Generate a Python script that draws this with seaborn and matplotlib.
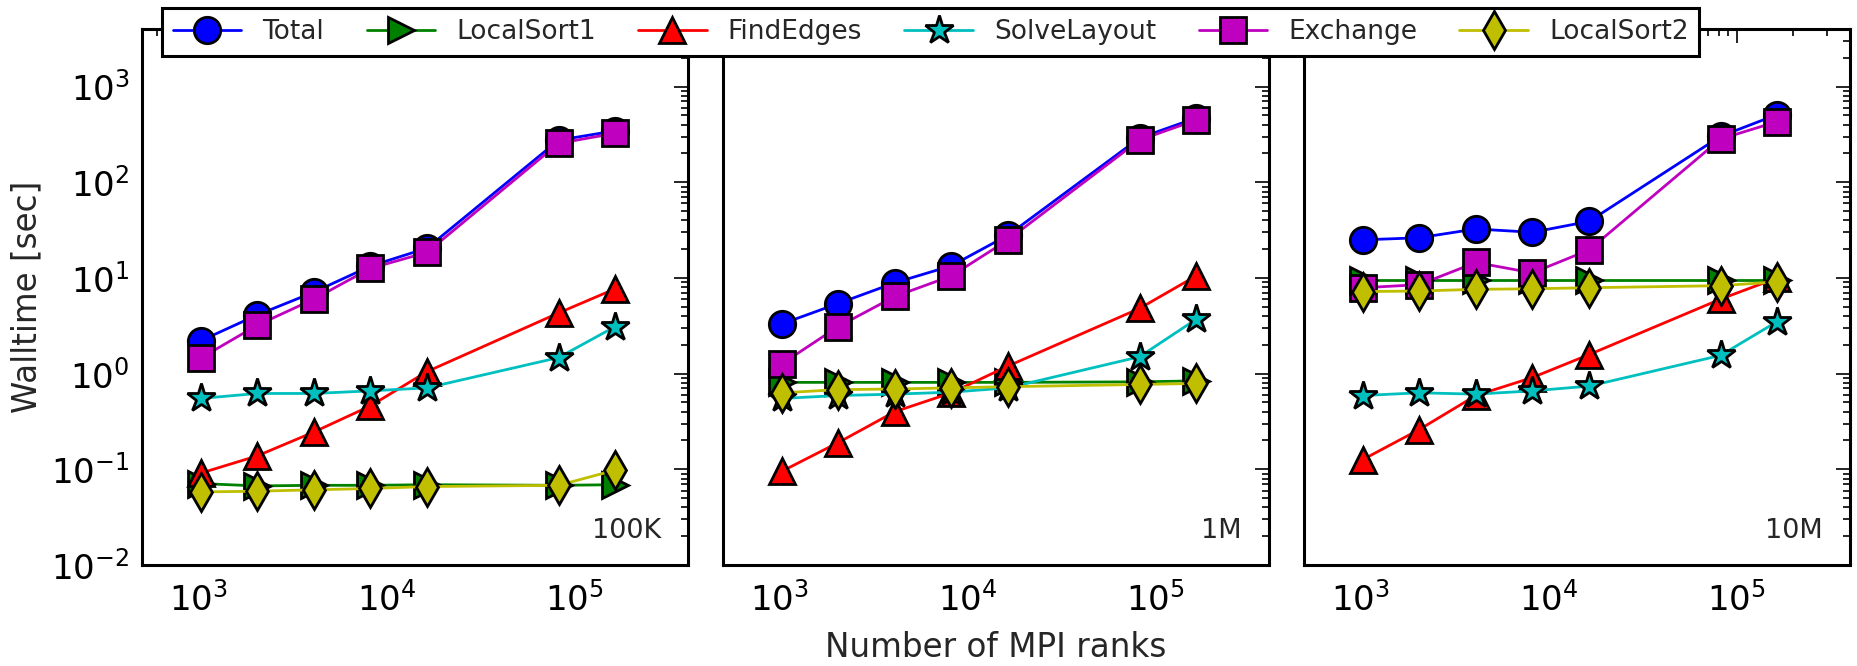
import matplotlib
matplotlib.use("Agg")
import matplotlib.pyplot as plt
import pandas as pd
import seaborn as sns

# MPI ranks on the x axis (same for all panels)
ranks = [1024, 2048, 4096, 8192, 16384, 81920, 163840]
panels = ["100K", "1M", "10M"]
series = ["Total", "LocalSort1", "FindEdges", "SolveLayout", "Exchange", "LocalSort2"]

# walltime [sec]
total_100k = [2.2, 4.1, 7.1, 13.3, 20.5, 275, 345]
localsort1_100k = [0.071, 0.067, 0.068, 0.068, 0.069, 0.068, 0.069]
findedges_100k = [0.091, 0.138, 0.245, 0.46, 1.05, 4.3, 7.7]
solvelayout_100k = [0.55, 0.62, 0.62, 0.66, 0.71, 1.47, 3.1]
exchange_100k = [1.45, 3.2, 6.0, 12.6, 18.5, 255, 325]
localsort2_100k = [0.058, 0.059, 0.061, 0.063, 0.066, 0.068, 0.098]

total_1m = [3.3, 5.4, 8.9, 13.4, 28, 290, 470]
localsort1_1m = [0.81, 0.81, 0.81, 0.81, 0.81, 0.82, 0.84]
findedges_1m = [0.095, 0.19, 0.40, 0.63, 1.2, 4.8, 10.5]
solvelayout_1m = [0.55, 0.59, 0.61, 0.64, 0.71, 1.5, 3.7]
exchange_1m = [1.26, 3.1, 6.4, 10.5, 25, 276, 447]
localsort2_1m = [0.63, 0.68, 0.69, 0.71, 0.73, 0.77, 0.79]

total_10m = [25, 26.3, 32.5, 30, 39, 302, 510]
localsort1_10m = [9.5, 9.5, 9.5, 9.5, 9.5, 9.5, 9.5]
findedges_10m = [0.126, 0.26, 0.59, 0.91, 1.58, 6.0, 10.0]
solvelayout_10m = [0.59, 0.63, 0.61, 0.66, 0.74, 1.55, 3.5]
exchange_10m = [7.9, 8.5, 14.5, 11.3, 19.6, 283, 430]
localsort2_10m = [7.2, 7.3, 7.6, 7.7, 7.9, 8.3, 9.1]

values = {
    "100K": [total_100k, localsort1_100k, findedges_100k, solvelayout_100k, exchange_100k, localsort2_100k],
    "1M": [total_1m, localsort1_1m, findedges_1m, solvelayout_1m, exchange_1m, localsort2_1m],
    "10M": [total_10m, localsort1_10m, findedges_10m, solvelayout_10m, exchange_10m, localsort2_10m],
}

rows = []
for p in panels:
    for name, vals in zip(series, values[p]):
        for r, v in zip(ranks, vals):
            rows.append({"panel": p, "series": name, "ranks": r, "time": v})
df = pd.DataFrame(rows)

colors = {"Total": "b", "LocalSort1": "g", "FindEdges": "r",
          "SolveLayout": "c", "Exchange": "m", "LocalSort2": "y"}
markers = {"Total": "o", "LocalSort1": ">", "FindEdges": "^",
           "SolveLayout": "*", "Exchange": "s", "LocalSort2": "d"}

sns.set_style("white")
plt.rcParams["font.family"] = ["DejaVu Sans"]
plt.rcParams["mathtext.fontset"] = "dejavusans"

fig = plt.figure(figsize=(18.58, 6.66), dpi=100)
lefts = [142 / 1858, 723 / 1858, 1304 / 1858]
axes = []
for i, left in enumerate(lefts):
    ax = fig.add_axes([left, 0.1517, 0.2939, 0.8048], sharey=axes[0] if axes else None)
    axes.append(ax)

for ax, p in zip(axes, panels):
    ax.set_xscale("log")
    ax.set_yscale("log")
    sub = df[df["panel"] == p]
    for name in series:
        d = sub[sub["series"] == name]
        sns.lineplot(data=d, x="ranks", y="time", ax=ax, color=colors[name],
                     marker=markers[name], markersize=19 if name != "SolveLayout" else 21,
                     markeredgecolor="k", markeredgewidth=2, linewidth=2,
                     label=name, legend=False, errorbar=None)
    ax.set_xlim(500, 4e5)
    ax.set_ylim(1e-2, 4e3)
    ax.set_xlabel("")
    ax.set_ylabel("")
    for s in ax.spines.values():
        s.set_linewidth(2.2)
        s.set_color("k")
    ax.tick_params(which="both", direction="in", top=True, right=True,
                   colors="k", labelsize=24.5)
    ax.tick_params(which="major", length=10, width=1.2)
    ax.tick_params(which="minor", length=5, width=1.2)
    ax.tick_params(axis="x", pad=12)
    ax.tick_params(axis="y", pad=9)
    ax.text(0.95, 0.04, p, transform=ax.transAxes, ha="right", va="bottom",
            fontsize=19.5)

for ax in axes[1:]:
    ax.tick_params(labelleft=False)

axes[0].set_ylabel("Walltime [sec]", fontsize=23.5)
axes[0].yaxis.set_label_coords(-0.181, 0.5)
axes[1].set_xlabel("Number of MPI ranks", fontsize=23.5, va="baseline")
axes[1].xaxis.set_label_coords(0.5, -0.1716)

handles, labels = axes[0].get_legend_handles_labels()
leg = fig.legend(handles, labels, loc="center", bbox_to_anchor=(0.501, 0.952),
                 ncol=6, fontsize=19, frameon=True, fancybox=False,
                 edgecolor="k", framealpha=1, handlelength=2.6,
                 columnspacing=1.6, borderpad=0.4, handletextpad=0.8)
leg.get_frame().set_linewidth(2.2)

fig.savefig("out.png", dpi=100)
